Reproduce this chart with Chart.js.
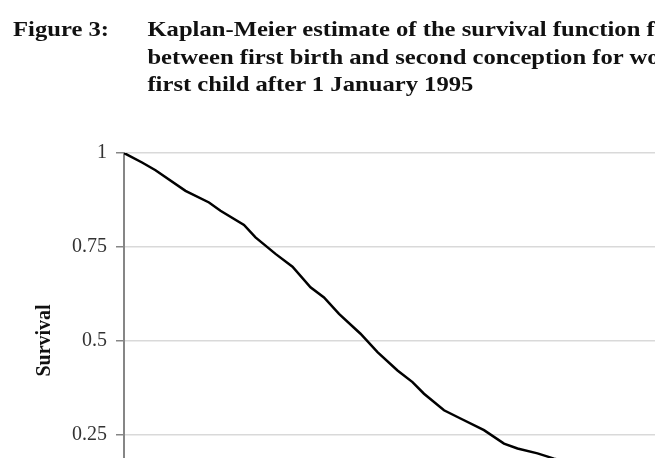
<!DOCTYPE html>
<html>
<head>
<meta charset="utf-8">
<script src="https://cdn.jsdelivr.net/npm/chart.js@4/dist/chart.umd.min.js"></script>
<style>
  html, body {
    margin: 0;
    padding: 0;
    width: 655px;
    height: 458px;
    overflow: hidden;
    background: #fff;
  }
  .caption {
    position: absolute;
    left: 13px;
    top: 15px;
    z-index: 2;
    font-family: "Liberation Serif", "Times New Roman", serif;
    font-weight: bold;
    font-size: 22px;
    line-height: 27.5px;
    color: #111;
    white-space: nowrap;
    transform: scaleX(1.12);
    transform-origin: 0 0;
  }
  .caption .label {
    position: absolute;
    left: 0;
    top: 0;
  }
  .caption .text {
    margin-left: 120px;
  }
  .chart-box {
    position: absolute;
    left: 0;
    top: 0;
    width: 740px;
    height: 549px;
  }
</style>
</head>
<body>
<div class="caption">
  <span class="label">Figure 3:</span>
  <div class="text">
    Kaplan-Meier estimate of the survival function for the duration<br>
    between first birth and second conception for women who had their<br>
    first child after 1 January 1995
  </div>
</div>
<div class="chart-box"><canvas id="survivalChart"></canvas></div>
<script>
// months since first birth (estimated from the curve)
const MONTHS = [0, 3.7, 6.3, 12.3, 17, 19.3, 24, 26.3, 30.3, 33.7, 37.3, 40, 43, 47.3,
  50.7, 54.7, 57.7, 60, 64, 67.3, 72, 76, 78.7, 82.7, 86, 92];
const SURVIVAL = [1, 0.974, 0.954, 0.899, 0.868, 0.846, 0.808, 0.775, 0.731, 0.697, 0.642,
  0.615, 0.571, 0.518, 0.469, 0.42, 0.389, 0.358, 0.314, 0.292, 0.261, 0.225, 0.212,
  0.199, 0.185, 0.168];
const Y_TICKS = [0, 0.25, 0.5, 0.75, 1];

const SERIF = "'Liberation Serif', 'Times New Roman', serif";
const AXIS_GREY = "#868686";
const GRID_GREY = "#d9d9d9";

function renderSurvivalChart() {
  const ctx = document.getElementById("survivalChart");
  return new Chart(ctx, {
    type: "line",
    data: {
      datasets: [{
        label: "Survival",
        data: MONTHS.map((m, i) => ({ x: m, y: SURVIVAL[i] })),
        borderColor: "#000",
        borderWidth: 2.5,
        pointRadius: 0,
        tension: 0,
        fill: false,
      }],
    },
    options: {
      responsive: true,
      maintainAspectRatio: false,
      animation: false,
      layout: { padding: { top: 153, bottom: 12, right: 16, left: 0 } },
      plugins: { legend: { display: false }, tooltip: { enabled: false } },
      scales: {
        x: {
          type: "linear",
          min: 0,
          max: 120,
          ticks: { display: false },
          grid: { display: false, drawTicks: false },
          border: { color: AXIS_GREY, width: 2 },
        },
        y: {
          min: 0,
          max: 1,
          afterBuildTicks: (scale) => {
            scale.ticks = Y_TICKS.map((v) => ({ value: v }));
          },
          afterFit: (scale) => {
            scale.width = 124;
          },
          ticks: {
            color: "#333",
            padding: 9,
            font: { family: SERIF, size: 20 },
            callback: (v) => String(v),
          },
          grid: {
            color: GRID_GREY,
            lineWidth: 1.5,
            tickLength: 8,
            tickColor: AXIS_GREY,
          },
          border: { color: AXIS_GREY, width: 2 },
          title: {
            display: true,
            text: "Survival",
            color: "#111",
            padding: { top: 33 },
            font: { family: SERIF, size: 20, weight: "bold" },
          },
        },
      },
    },
  });
}

renderSurvivalChart();
</script>
</body>
</html>
